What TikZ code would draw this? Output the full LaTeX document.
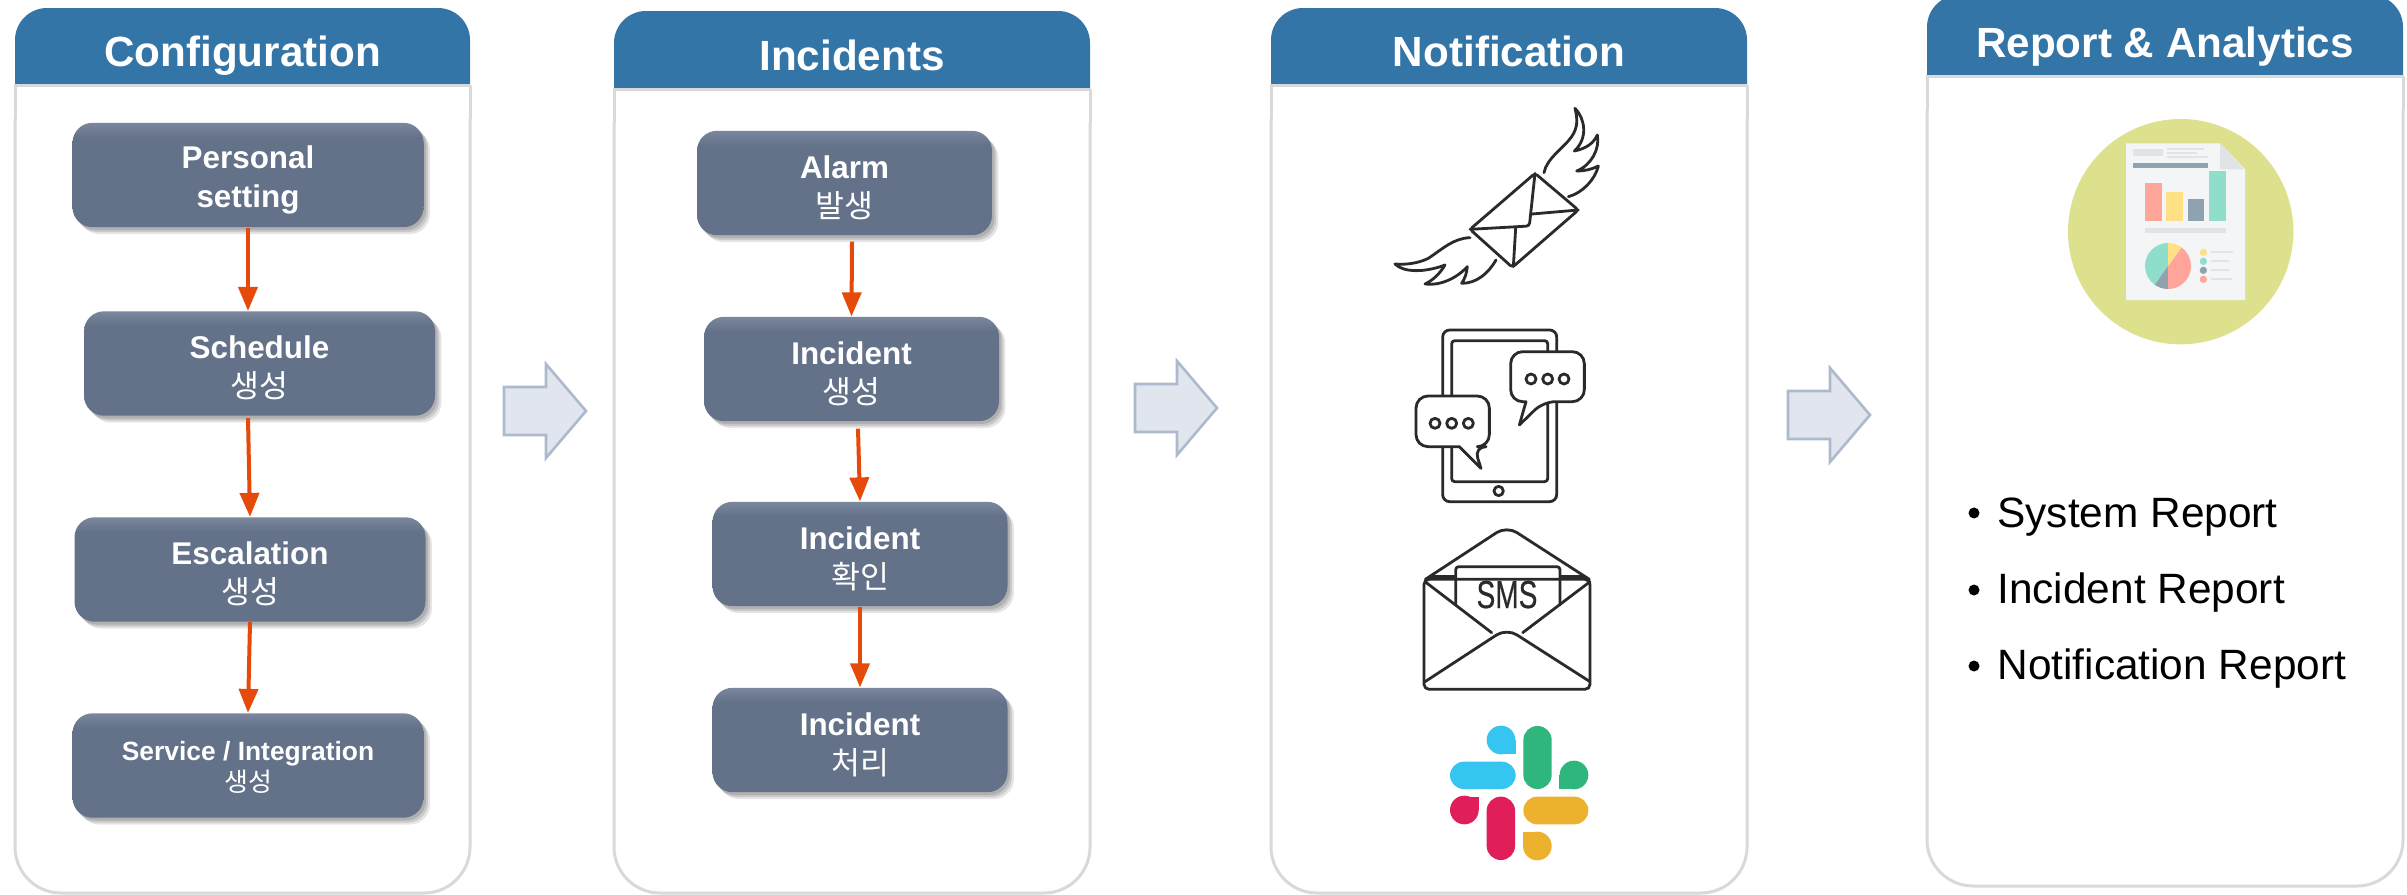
\documentclass[tikz,border=0pt]{standalone}
\usepackage{fontspec}
\usepackage{graphicx}
\setmainfont{Liberation Sans}
\newfontfamily\kr{Noto Sans CJK KR}
\newfontfamily\smsfont[FakeBold=0.6]{Liberation Sans}
\usetikzlibrary{arrows.meta,shadows,calc}
\definecolor{headc}{HTML}{3475A7}
\definecolor{panelc}{HTML}{D9D9D9}
\definecolor{boxc}{HTML}{637189}
\definecolor{boxtop}{HTML}{7A879D}
\definecolor{flowc}{HTML}{E64A0B}
\definecolor{icon}{HTML}{2A2A2A}
\definecolor{blockedge}{HTML}{ADB9CC}
\definecolor{blockfill}{HTML}{E1E5EE}
\pgfdeclareverticalshading{boxshade}{100bp}{color(0bp)=(boxc); color(68bp)=(boxc); color(75bp)=(boxtop); color(100bp)=(boxtop)}
\tikzset{
  stepbox/.style={rounded corners=10pt,shading=boxshade,inner sep=0pt,text=white,align=center,
    minimum height=52.2pt,
    font=\bfseries\fontsize{15.7}{19.4}\selectfont,
    general shadow={shadow xshift=1.2pt,shadow yshift=-1.4pt,fill=black,opacity=.12},
    general shadow={shadow xshift=2.2pt,shadow yshift=-2.4pt,fill=black,opacity=.12},
    general shadow={shadow xshift=3.2pt,shadow yshift=-3.4pt,fill=black,opacity=.10}},
  widebox/.style={stepbox,minimum width=175.5pt},
  narrowbox/.style={stepbox,minimum width=147.5pt},
  flow/.style={draw=flowc,line width=2pt,-{Triangle[length=12pt,width=9.5pt]}},
  paneledge/.style={draw=panelc,line width=1.5pt,fill=white},
  headtext/.style={text=white,anchor=base,inner sep=0pt,font=\bfseries\fontsize{21.1}{25}\selectfont},
  blockarrow/.style={draw=blockedge,fill=blockfill,line width=1.3pt,miter limit=8},
  iconline/.style={draw=icon,line width=1.4pt,line join=round,line cap=round},
  reporttext/.style={anchor=base west,inner sep=0pt,text=black,font=\fontsize{21.2}{25}\selectfont},
}
\newcommand{\kor}[1]{{\kr\mdseries\fontsize{15.7}{19.4}\selectfont #1}}
\newcommand{\ts}{\rule{0pt}{16pt}}
\newcommand{\panelshape}[8]{%
  \draw[paneledge,rounded corners=23pt] (#1,#4) -- (#1,#5) -- (#2,#5) -- (#2,#4);
  \draw[panelc,line width=1.5pt] (#1-1,#4) -- (#2+1,#4);
  \fill[headc,rounded corners=16pt] (#1,#3) rectangle (#2,#4+30);
  \fill[white] (#1-2,#4+.8) rectangle (#2+2,#4+33);
  \draw[panelc,line width=1.5pt] (#1,#4+1) -- (#1,#4+34) (#2,#4+1) -- (#2,#4+34);
  \draw[panelc,line width=1.5pt] (#1-1,#4) -- (#2+1,#4);
  \node[headtext] (#8) at ({(#1+#2)/2},#6) {#7};
}
\newcommand{\blockat}[2]{%
  \draw[blockarrow] (#1,#2-24) -- (#1+42,#2-24) -- (#1+42,#2-47) -- (#1+82,#2) -- (#1+42,#2+47) -- (#1+42,#2+24) -- (#1,#2+24) -- cycle;
}
\begin{document}
\begin{tikzpicture}[x=0.5pt,y=-0.5pt]
\useasboundingbox (0,0) rectangle (2407,894);
\clip (0,0) rectangle (2407,894);

% Panels
\panelshape{15}{470}{8}{85}{893}{66}{Configuration}{headconf}
\panelshape{614}{1090}{11}{89}{893}{70}{Incidents}{headinc}
\panelshape{1271}{1747}{8}{85}{893}{66}{Notification}{headnot}
\panelshape{1927}{2403}{-5}{76}{886}{57}{Report \& Analytics}{headrep}

% Configuration column
\node[widebox] (pers) at (248,175) {\ts Personal\\setting};
\node[widebox] (sched) at (259.5,363.5) {\ts Schedule\\\kor{생성}};
\node[widebox] (esc) at (250,569.5) {\ts Escalation\\\kor{생성}};
\node[widebox,font=\bfseries\fontsize{13.2}{15.8}\selectfont] (serv) at (248,765.5) {\rule{0pt}{11.5pt}Service / Integration\\{\kr\mdseries\fontsize{13}{15.8}\selectfont 생성}};
\draw[flow] (pers.south) -- ([xshift=-5.75pt]sched.north);
\draw[flow] ([xshift=-5.75pt,yshift=-1pt]sched.south) -- (esc.north);
\draw[flow] (esc.south) -- (serv.north);

% Incidents column
\node[narrowbox] (alarm) at (844.5,183) {\ts Alarm\\\kor{발생}};
\node[narrowbox] (inca) at (851.5,369) {\ts Incident\\\kor{생성}};
\node[narrowbox] (incb) at (860,554) {\ts Incident\\\kor{확인}};
\node[narrowbox] (incc) at (860,740) {\ts Incident\\\kor{처리}};
\draw[flow] ([xshift=3.75pt,yshift=-3pt]alarm.south) -- (inca.north);
\draw[flow] ([xshift=3.25pt,yshift=-3.5pt]inca.south) -- (incb.north);
\draw[flow] (incb.south) -- (incc.north);

% Block arrows
\blockat{504}{411}
\blockat{1135}{408}
\blockat{1788}{415}

% Winged envelope
\begin{scope}[shift={(1340,90)},scale=1/3]
\draw[iconline] (612,248) .. controls (620,205) and (670,175) .. (695,140) .. controls (715,110) and (712,85) .. (705,55)
  .. controls (735,85) and (745,145) .. (703,183) .. controls (740,175) and (760,160) .. (772,135)
  .. controls (780,175) and (755,225) .. (710,243) .. controls (735,243) and (755,238) .. (775,228)
  .. controls (765,270) and (725,310) .. (685,320);
\draw[iconline] (390,443) .. controls (340,445) and (310,475) .. (265,505) .. controls (235,520) and (195,525) .. (165,522)
  .. controls (190,548) and (255,548) .. (315,525) .. controls (300,550) and (280,570) .. (255,582)
  .. controls (300,588) and (350,565) .. (382,530) .. controls (380,550) and (375,565) .. (365,580)
  .. controls (410,580) and (445,550) .. (468,510);
\draw[iconline,rounded corners=1.5pt] (585,250) -- (715,360) -- (517,532) -- (390,418) -- cycle;
\draw[iconline,rounded corners=1.5pt] (390,418) -- (568,408) -- (585,250);
\draw[iconline] (715,360) -- (576,372);
\draw[iconline] (520,530) -- (527,414);
\end{scope}

% Tablet with speech bubbles
\begin{scope}[shift={(1400,320)},scale=1/3]
\draw[iconline,rounded corners=3.5pt] (128,30) rectangle (470,545);
\draw[iconline,rounded corners=1.5pt] (155,62) rectangle (443,485);
\draw[iconline] (296,513) circle[radius=14];
\draw[iconline,fill=white,rounded corners=6pt] (332,170) -- (332,95) -- (553,95) -- (553,245) -- (430,245) [sharp corners] -- (358,315) -- (378,245) [rounded corners=6pt] -- (332,245) -- cycle;
\foreach \cx in {393,443,492} \draw[iconline] (\cx,177) circle[radius=15];
\draw[iconline,fill=white,rounded corners=6pt] (48,300) -- (48,228) -- (268,228) -- (268,380) -- (222,380) [sharp corners] -- (243,445) -- (178,380) [rounded corners=6pt] -- (48,380) -- cycle;
\foreach \cx in {105,155,205} \draw[iconline] (\cx,310) circle[radius=15];
\end{scope}

% SMS envelope
\begin{scope}[shift={(1340,500)},scale=1/3]
\draw[iconline,rounded corners=2.5pt] (252,238) rectangle (750,568);
\draw[iconline,rounded corners=6pt] (256,238) -- (500,78) -- (748,238);
\draw[iconline,rounded corners=1.5pt] (347,315) -- (347,200) -- (660,200) -- (660,315);
\draw[iconline] (270,230) -- (345,230);
\draw[iconline] (662,230) -- (735,230);
\draw[iconline] (255,245) -- (455,398);
\draw[iconline] (750,245) -- (548,398);
\draw[iconline,rounded corners=6pt] (255,545) -- (500,385) -- (750,545);
\end{scope}
\node[anchor=base,inner sep=0pt,text=icon,font=\smsfont\fontsize{19.5}{22}\selectfont] (smslabel) at (1507,608) {\scalebox{.72}[1]{SMS}};

% Slack logo
\begin{scope}[shift={(1340,500)},scale=1/3]
\definecolor{slc}{HTML}{36C5F0}\definecolor{slg}{HTML}{2EB67D}\definecolor{slr}{HTML}{E01E5A}\definecolor{sly}{HTML}{ECB22E}
\fill[slc] (483,720) circle[radius=43]; \fill[slc] (483,720) rectangle (527,763);
\fill[slc,rounded corners=6.9pt] (330,785) rectangle (527,867);
\fill[slg,rounded corners=7pt] (550,678) rectangle (635,867);
\fill[slg] (702,825) circle[radius=43]; \fill[slg] (657,825) rectangle (702,867);
\fill[slr] (373,930) circle[radius=43]; \fill[slr] (373,890) rectangle (417,930);
\fill[slr,rounded corners=7pt] (440,890) rectangle (525,1080);
\fill[sly,rounded corners=6.9pt] (550,890) rectangle (745,973);
\fill[sly] (592,1038) circle[radius=43]; \fill[sly] (550,997) rectangle (592,1038);
\end{scope}

% Report icon
\begin{scope}[shift={(2040,120)},scale=1/3]
\definecolor{rg}{HTML}{DDE18E}\definecolor{rp}{HTML}{F3F5F7}\definecolor{rl}{HTML}{E1E4E7}
\definecolor{rd}{HTML}{8FA2AF}\definecolor{rs}{HTML}{FFA59A}\definecolor{ry}{HTML}{FFE084}\definecolor{rt}{HTML}{8FDDCB}
\fill[rg] (422,335) circle[radius=338];
\fill[rp] (258,70) -- (540,70) -- (615,148) -- (615,540) -- (258,540) -- cycle;
\fill[rl] (540,70) -- (540,148) -- (612,148) -- cycle;
\fill[rl] (278,88) rectangle (370,108);
\draw[rl,line width=.9pt] (380,86) -- (492,86) (380,98) -- (470,98) (380,110) -- (505,110);
\fill[rd] (278,128) rectangle (505,144);
\fill[rs] (315,190) rectangle (365,304);
\fill[ry] (379,215) rectangle (429,304);
\fill[rd] (443,238) rectangle (493,304);
\fill[rt] (507,154) rectangle (557,304);
\fill[rl] (315,323) rectangle (557,338);
\fill[rt] (384,438) -- (384,369) arc[start angle=-90,end angle=-235,radius=69] -- cycle;
\fill[rd] (384,438) -- ++(-39.5,56.5) arc[start angle=-235,end angle=-270,radius=69] -- cycle;
\fill[rs] (384,438) -- (384,507) arc[start angle=-270,end angle=-414,radius=69] -- cycle;
\fill[ry] (384,438) -- ++(40.5,-56) arc[start angle=-414,end angle=-450,radius=69] -- cycle;
\fill[ry] (490,397) circle[radius=11]; \fill[rt] (490,424) circle[radius=11];
\fill[rd] (490,451) circle[radius=11]; \fill[rs] (490,478) circle[radius=11];
\draw[rl,line width=.9pt] (513,397) -- (578,397) (513,424) -- (568,424) (513,451) -- (568,451) (513,478) -- (576,478);
\end{scope}

% Report list
\fill (1974,513) circle[radius=5.5];
\fill (1974,590) circle[radius=5.5];
\fill (1974,666) circle[radius=5.5];
\node[reporttext] (repa) at (1997,527) {System Report};
\node[reporttext] (repb) at (1997,603) {Incident Report};
\node[reporttext] (repc) at (1997,679) {Notification Report};
\end{tikzpicture}
\end{document}
